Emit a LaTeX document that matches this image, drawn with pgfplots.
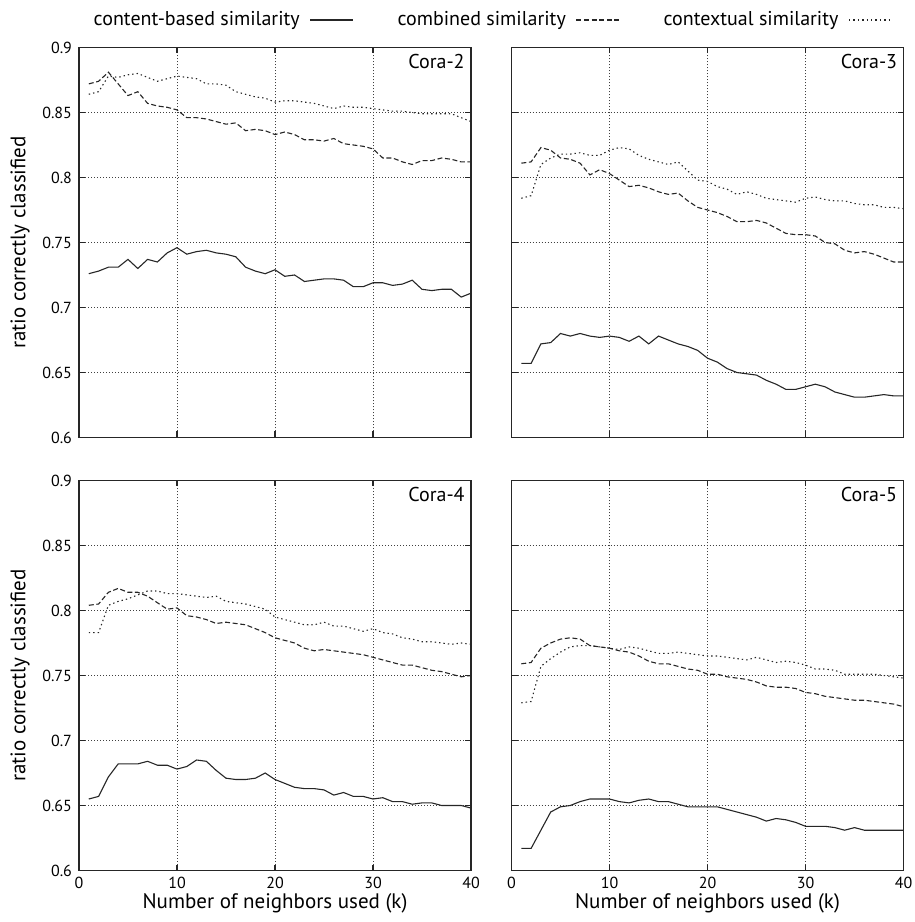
\documentclass[border=0pt]{standalone}
\usepackage{fontspec}
\setmainfont{PT Sans}
\usepackage{pgfplots}
\usepackage{pgfplotstable}
\pgfplotsset{compat=1.18}
\usepgfplotslibrary{groupplots}

% k content combined contextual
\pgfplotstableread{
k  cb     cm     cx
1  0.726  0.872  0.864
2  0.728  0.874  0.866
3  0.731  0.881  0.878
4  0.731  0.872  0.877
5  0.737  0.863  0.879
6  0.730  0.866  0.880
7  0.737  0.857  0.877
8  0.735  0.855  0.874
9  0.742  0.854  0.876
10 0.746  0.852  0.878
11 0.741  0.846  0.877
12 0.743  0.846  0.876
13 0.744  0.845  0.872
14 0.742  0.843  0.872
15 0.741  0.841  0.871
16 0.739  0.842  0.866
17 0.731  0.836  0.864
18 0.728  0.837  0.862
19 0.726  0.836  0.861
20 0.729  0.833  0.858
21 0.724  0.835  0.859
22 0.725  0.833  0.859
23 0.720  0.829  0.858
24 0.721  0.829  0.857
25 0.722  0.828  0.855
26 0.722  0.830  0.853
27 0.721  0.826  0.855
28 0.716  0.825  0.854
29 0.716  0.824  0.854
30 0.719  0.822  0.853
31 0.719  0.815  0.852
32 0.717  0.815  0.851
33 0.718  0.812  0.851
34 0.721  0.810  0.850
35 0.714  0.813  0.849
36 0.713  0.813  0.849
37 0.714  0.815  0.849
38 0.714  0.814  0.849
39 0.708  0.812  0.846
40 0.711  0.812  0.843
}\coratwo

\pgfplotstableread{
k  cb     cm     cx
1  0.657  0.811  0.784
2  0.657  0.812  0.786
3  0.672  0.823  0.810
4  0.673  0.821  0.815
5  0.680  0.815  0.818
6  0.678  0.814  0.818
7  0.680  0.811  0.819
8  0.678  0.802  0.817
9  0.677  0.806  0.817
10 0.678  0.803  0.821
11 0.677  0.798  0.823
12 0.674  0.793  0.822
13 0.678  0.794  0.817
14 0.672  0.792  0.814
15 0.678  0.789  0.812
16 0.675  0.787  0.810
17 0.672  0.788  0.812
18 0.670  0.782  0.805
19 0.667  0.777  0.798
20 0.661  0.775  0.797
21 0.658  0.773  0.793
22 0.653  0.770  0.791
23 0.650  0.766  0.787
24 0.649  0.766  0.789
25 0.648  0.767  0.787
26 0.644  0.765  0.784
27 0.641  0.761  0.783
28 0.637  0.757  0.782
29 0.637  0.756  0.781
30 0.639  0.756  0.784
31 0.641  0.755  0.785
32 0.639  0.750  0.783
33 0.635  0.749  0.782
34 0.633  0.744  0.782
35 0.631  0.742  0.780
36 0.631  0.743  0.779
37 0.632  0.741  0.779
38 0.633  0.738  0.777
39 0.632  0.735  0.777
40 0.632  0.735  0.776
}\corathree

\pgfplotstableread{
k  cb     cm     cx
1  0.655  0.804  0.783
2  0.657  0.805  0.783
3  0.672  0.814  0.804
4  0.682  0.817  0.807
5  0.682  0.814  0.809
6  0.682  0.814  0.812
7  0.684  0.811  0.815
8  0.681  0.806  0.815
9  0.681  0.801  0.813
10 0.678  0.802  0.813
11 0.680  0.796  0.812
12 0.685  0.795  0.811
13 0.684  0.793  0.810
14 0.677  0.790  0.811
15 0.671  0.791  0.807
16 0.670  0.790  0.806
17 0.670  0.789  0.805
18 0.671  0.786  0.803
19 0.675  0.783  0.801
20 0.670  0.779  0.795
21 0.667  0.777  0.793
22 0.664  0.775  0.791
23 0.663  0.771  0.789
24 0.663  0.769  0.789
25 0.662  0.770  0.791
26 0.658  0.769  0.788
27 0.660  0.768  0.788
28 0.657  0.767  0.786
29 0.657  0.766  0.784
30 0.655  0.764  0.786
31 0.656  0.762  0.783
32 0.653  0.760  0.782
33 0.653  0.758  0.779
34 0.651  0.758  0.778
35 0.652  0.756  0.776
36 0.652  0.754  0.776
37 0.650  0.753  0.775
38 0.650  0.751  0.774
39 0.650  0.749  0.775
40 0.648  0.750  0.774
}\corafour

\pgfplotstableread{
k  cb     cm     cx
1  0.617  0.759  0.729
2  0.617  0.760  0.730
3  0.631  0.771  0.757
4  0.645  0.775  0.763
5  0.649  0.778  0.768
6  0.650  0.779  0.772
7  0.653  0.778  0.773
8  0.655  0.773  0.773
9  0.655  0.772  0.772
10 0.655  0.771  0.771
11 0.653  0.769  0.770
12 0.652  0.768  0.772
13 0.654  0.765  0.771
14 0.655  0.761  0.769
15 0.653  0.759  0.767
16 0.653  0.759  0.767
17 0.651  0.757  0.768
18 0.649  0.755  0.767
19 0.649  0.754  0.766
20 0.649  0.751  0.765
21 0.649  0.751  0.765
22 0.647  0.749  0.764
23 0.645  0.748  0.763
24 0.643  0.747  0.762
25 0.641  0.745  0.764
26 0.638  0.742  0.762
27 0.640  0.741  0.760
28 0.639  0.741  0.761
29 0.637  0.740  0.760
30 0.634  0.737  0.758
31 0.634  0.736  0.755
32 0.634  0.734  0.755
33 0.633  0.733  0.754
34 0.631  0.732  0.751
35 0.633  0.731  0.751
36 0.631  0.731  0.751
37 0.631  0.730  0.751
38 0.631  0.729  0.750
39 0.631  0.728  0.749
40 0.631  0.726  0.748
}\corafive

\pgfplotsset{
  cora/.style={
    width=196pt, height=195pt, scale only axis,
    xmin=0, xmax=40, ymin=0.6, ymax=0.9,
    xtick={0,10,20,30,40},
    ytick={0.6,0.65,0.7,0.75,0.8,0.85,0.9},
    /pgf/number format/assume math mode=true,
    tick label style={font=\fontsize{8}{9.5}\selectfont},
    label style={font=\fontsize{10.5}{12}\selectfont},
    grid=major,
    grid style={black!75, line width=0.4pt, dash pattern=on 0.5pt off 1pt},
    axis line style={black!85, line width=0.8pt},
    tick style={black!85, line width=0.6pt},
    tick align=inside,
    major tick length=3pt,
    every axis plot/.append style={line width=0.55pt, black!85, mark=none},
  },
  content/.style={solid},
  combined/.style={dash pattern=on 2.5pt off 1.3pt},
  contextual/.style={dash pattern=on 0.7pt off 1.5pt},
}

\newcommand{\coralabel}[1]{\node[anchor=north east, inner sep=3pt, font=\fontsize{10}{12}\selectfont] at (rel axis cs:1,1) {#1};}

\begin{document}
\begin{tikzpicture}
\begin{groupplot}[
    group style={group size=2 by 2, horizontal sep=20.25pt, vertical sep=21.5pt,
                 xticklabels at=edge bottom, yticklabels at=edge left},
    cora,
]
\nextgroupplot[
    ylabel={ratio correctly classified},
    ylabel style={at={(axis description cs:-0.15,0.5)}, anchor=center},
    legend columns=3, legend plot pos=right,
    legend image code/.code={\draw[#1] (0cm,0cm) -- (0.75cm,0cm);},
    legend style={draw=none, fill=none, at={(1.051,1.0705)}, anchor=center,
                  font=\fontsize{10}{12}\selectfont,
                  /tikz/every even column/.append style={column sep=20pt},
                  /tikz/every odd column/.append style={column sep=3pt}},
]
\addplot[content] table[x=k, y=cb] {\coratwo};
\addlegendentry{content-based similarity}
\addplot[combined] table[x=k, y=cm] {\coratwo};
\addlegendentry{combined similarity}
\addplot[contextual] table[x=k, y=cx] {\coratwo};
\addlegendentry{contextual similarity}
\coralabel{Cora-2}
\coordinate (tl) at (rel axis cs:0,1);

\nextgroupplot
\addplot[content] table[x=k, y=cb] {\corathree};
\addplot[combined] table[x=k, y=cm] {\corathree};
\addplot[contextual] table[x=k, y=cx] {\corathree};
\coralabel{Cora-3}

\nextgroupplot[
    ylabel={ratio correctly classified},
    ylabel style={at={(axis description cs:-0.15,0.5)}, anchor=center},
    xlabel={Number of neighbors used (k)},
    xlabel style={at={(axis description cs:0.5,-0.085)}, anchor=center},
]
\addplot[content] table[x=k, y=cb] {\corafour};
\addplot[combined] table[x=k, y=cm] {\corafour};
\addplot[contextual] table[x=k, y=cx] {\corafour};
\coralabel{Cora-4}

\nextgroupplot[
    xlabel={Number of neighbors used (k)},
    xlabel style={at={(axis description cs:0.5,-0.085)}, anchor=center},
]
\addplot[content] table[x=k, y=cb] {\corafive};
\addplot[combined] table[x=k, y=cm] {\corafive};
\addplot[contextual] table[x=k, y=cx] {\corafive};
\coralabel{Cora-5}
\coordinate (br) at (rel axis cs:1,0);
\end{groupplot}
\pgfresetboundingbox
\path[use as bounding box] ([shift={(-39.5pt,23.75pt)}]tl) rectangle ([shift={(5.75pt,-25.75pt)}]br);
\end{tikzpicture}
\end{document}
